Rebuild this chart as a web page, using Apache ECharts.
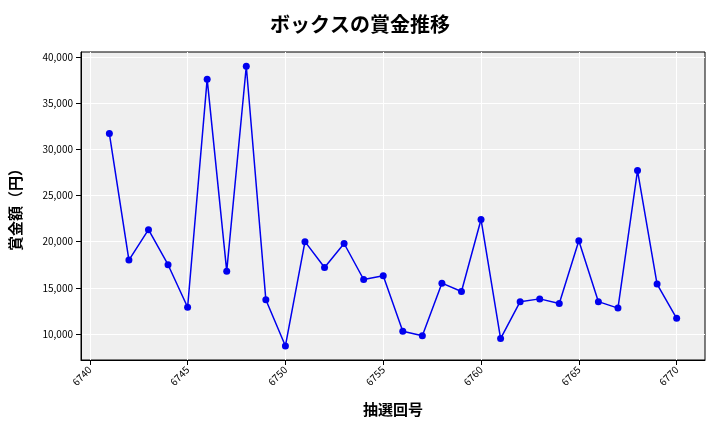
<!DOCTYPE html><html><head><meta charset="utf-8"><script src="https://cdn.jsdelivr.net/npm/echarts@6/dist/echarts.min.js"></script></head><body style="margin:0"><div id="c" style="width:720px;height:432px"></div><script>
const draws=[6741,6742,6743,6744,6745,6746,6747,6748,6749,6750,6751,6752,6753,6754,6755,6756,6757,6758,6759,6760,6761,6762,6763,6764,6765,6766,6767,6768,6769,6770];
const prizes=[31700,18000,21300,17500,12900,37600,16800,39000,13700,8700,20000,17200,19800,15900,16300,10300,9800,15500,14600,22400,9500,13500,13800,13300,20100,13500,12800,27700,15400,11700];
const xTicks=[6740,6745,6750,6755,6760,6765,6770];
const yTicks=[10000,15000,20000,25000,30000,35000,40000];
const F='"Noto Sans CJK JP","Noto Sans",sans-serif';
const c=echarts.init(document.getElementById('c'));
c.setOption({animation:false,
title:{text:'ボックスの賞金推移',left:'center',top:9,textStyle:{fontFamily:F,fontSize:20,fontWeight:'bold',color:'#000'}},
grid:{left:81,right:15,top:52,bottom:72,containLabel:false,outerBoundsMode:'none',backgroundColor:'#efefef',show:true,borderColor:'#000',borderWidth:1},
xAxis:{type:'value',min:6739.55,max:6771.45,name:'抽選回号',nameLocation:'middle',nameGap:42,nameTextStyle:{fontFamily:F,fontSize:15,fontWeight:'bold',color:'#000'},
axisLine:{lineStyle:{color:'#000'}},axisTick:{show:true,customValues:xTicks,lineStyle:{color:'#000'}},
axisLabel:{customValues:xTicks,rotate:45,fontSize:10,color:'#000',fontFamily:F,formatter:v=>String(v)},splitLine:{show:true,lineStyle:{color:'#fff'}}},
yAxis:{type:'value',min:7180,max:40540,name:'賞金額（円）',nameLocation:'middle',nameGap:58,nameTextStyle:{fontFamily:F,fontSize:15,fontWeight:'bold',color:'#000'},
axisLine:{show:true,lineStyle:{color:'#000'}},axisTick:{show:true,customValues:yTicks,lineStyle:{color:'#000'}},
axisLabel:{customValues:yTicks,fontSize:10,color:'#000',fontFamily:F,formatter:v=>v.toLocaleString('en-US')},splitLine:{show:true,lineStyle:{color:'#fff'}}},
series:[{type:'line',data:draws.map((d,i)=>[d,prizes[i]]),color:'#0000ee',symbol:'circle',symbolSize:7,lineStyle:{width:1.5,color:'#0000ee'},itemStyle:{color:'#0000ee'}}]});
</script></body></html>
